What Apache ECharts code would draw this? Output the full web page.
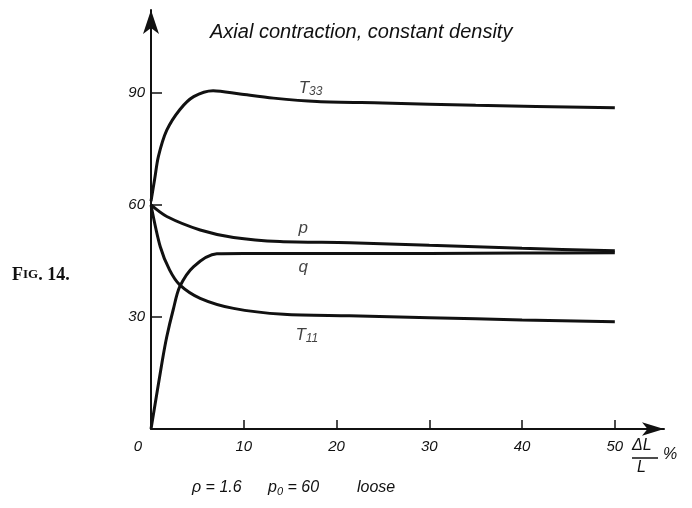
<!DOCTYPE html>
<html>
<head>
<meta charset="utf-8">
<script src="https://cdn.jsdelivr.net/npm/echarts@6/dist/echarts.min.js"></script>
<style>
  html, body { margin: 0; padding: 0; background: #fff; }
  #main { width: 692px; height: 508px; }
</style>
</head>
<body>
<div id="main"></div>
<script>
// x ticks / y ticks
const xTicks = [0, 10, 20, 30, 40, 50];
const yTicks = [30, 60, 90];

// curves: [ΔL/L %, value]
const t33 = [[0, 61], [0.4, 67], [0.8, 73], [1.7, 80], [3.1, 85.5], [4.6, 89], [6.7, 90.6],
  [9.6, 89.7], [13.2, 88.6], [17.9, 87.7], [25, 87.3], [35, 86.7], [50, 86]];
const pData = [[0, 60], [1.7, 56.9], [5.3, 53.3], [8.9, 51.3], [13.9, 50.2], [21.4, 49.9],
  [30, 49.2], [40, 48.4], [50, 47.7]];
const qData = [[0, 0], [1.2, 18], [1.7, 24.7], [2.4, 32], [3.1, 38.1], [4.6, 43.5],
  [7.1, 46.9], [10, 47], [20, 47], [30, 47], [40, 47.1], [50, 47.2]];
const t11 = [[0, 60], [1, 48.8], [2, 42.6], [3.1, 38.6], [5.3, 35], [8.9, 32.3], [14.3, 30.7],
  [21.4, 30.3], [30, 29.8], [40, 29.2], [50, 28.7]];

// curve names and where they sit
const curveLabels = [
  { text: 'T{s|33}', coord: [17.2, 91.3] },
  { text: 'p', coord: [16.4, 53.8] },
  { text: 'q', coord: [16.4, 43.4] },
  { text: 'T{s|11}', coord: [16.8, 25.2] }
];

const ink = '#111';
const fnt = 'Liberation Sans';

const myChart = echarts.init(document.getElementById('main'));

const lineSeries = (name, data) => ({
  name: name,
  type: 'line',
  data: data,
  smooth: 0.3,
  showSymbol: false,
  lineStyle: { color: ink, width: 3 },
  silent: true,
  z: 3
});

myChart.setOption({
  animation: false,
  backgroundColor: '#fff',
  title: {
    text: 'Axial contraction, constant density',
    left: 205,
    top: 17,
    textStyle: { color: ink, fontFamily: fnt, fontStyle: 'italic', fontWeight: 'normal', fontSize: 20 }
  },
  grid: { left: 151, right: 28, top: 10, bottom: 79 },
  xAxis: {
    type: 'value',
    min: 0,
    max: 55.3,
    axisLine: { show: true, symbol: ['none', 'arrow'], symbolSize: [10, 22], lineStyle: { color: ink, width: 2 } },
    axisTick: { show: true, inside: true, length: 9, customValues: xTicks.slice(1), lineStyle: { color: ink, width: 1.5 } },
    axisLabel: {
      customValues: xTicks,
      margin: 10,
      formatter: v => (v === 0 ? '{o|0}' : String(v)),
      color: ink, fontFamily: fnt, fontStyle: 'italic', fontSize: 15,
      rich: { o: { padding: [0, 26, 0, 0], color: ink, fontFamily: fnt, fontStyle: 'italic', fontSize: 15 } }
    },
    splitLine: { show: false }
  },
  yAxis: {
    type: 'value',
    min: 0,
    max: 112.2,
    axisLine: { show: true, symbol: ['none', 'arrow'], symbolSize: [12, 24], lineStyle: { color: ink, width: 2 } },
    axisTick: { show: true, inside: true, length: 11, customValues: yTicks, lineStyle: { color: ink, width: 1.5 } },
    axisLabel: {
      customValues: yTicks,
      margin: 6,
      color: ink, fontFamily: fnt, fontStyle: 'italic', fontSize: 15
    },
    splitLine: { show: false }
  },
  series: [
    lineSeries('T33', t33),
    lineSeries('p', pData),
    lineSeries('q', qData),
    lineSeries('T11', t11),
    {
      type: 'scatter',
      symbolSize: 0,
      silent: true,
      data: curveLabels.map(d => ({ value: d.coord, label: { formatter: d.text } })),
      label: {
        show: true,
        position: 'inside',
        color: ink,
        fontFamily: fnt,
        fontStyle: 'italic',
        fontSize: 17,
        rich: { s: { fontSize: 12, fontStyle: 'italic', fontFamily: fnt, color: ink, padding: [8, 0, 0, 0] } }
      }
    }
  ],
  graphic: [
    {
      type: 'text', left: 12, top: 266,
      style: {
        text: '{b|F}{c|IG}{b|. 14.}',
        rich: {
          b: { fontFamily: 'Liberation Serif', fontWeight: 'bold', fontSize: 18, fill: ink },
          c: { fontFamily: 'Liberation Serif', fontWeight: 'bold', fontSize: 13, fill: ink }
        }
      }
    },
    { type: 'text', left: 192, top: 480, style: { text: 'ρ = 1.6', fill: ink, font: 'italic 16px "Liberation Sans"' } },
    {
      type: 'text', left: 268, top: 480,
      style: {
        text: 'p{s|0} = 60',
        fill: ink, font: 'italic 16px "Liberation Sans"',
        rich: { s: { fontSize: 11, fontStyle: 'italic', fontFamily: fnt, fill: ink, padding: [7, 0, 0, 0] } }
      }
    },
    { type: 'text', left: 357, top: 480, style: { text: 'loose', fill: ink, font: 'italic 16px "Liberation Sans"' } },
    { type: 'text', left: 632, top: 438, style: { text: 'ΔL', fill: ink, font: 'italic 16px "Liberation Sans"' } },
    { type: 'line', shape: { x1: 632, y1: 458, x2: 658, y2: 458 }, style: { stroke: ink, lineWidth: 1.5 } },
    { type: 'text', left: 637, top: 460, style: { text: 'L', fill: ink, font: 'italic 16px "Liberation Sans"' } },
    { type: 'text', left: 663, top: 447, style: { text: '%', fill: ink, font: 'italic 16px "Liberation Sans"' } }
  ]
});
</script>
</body>
</html>
